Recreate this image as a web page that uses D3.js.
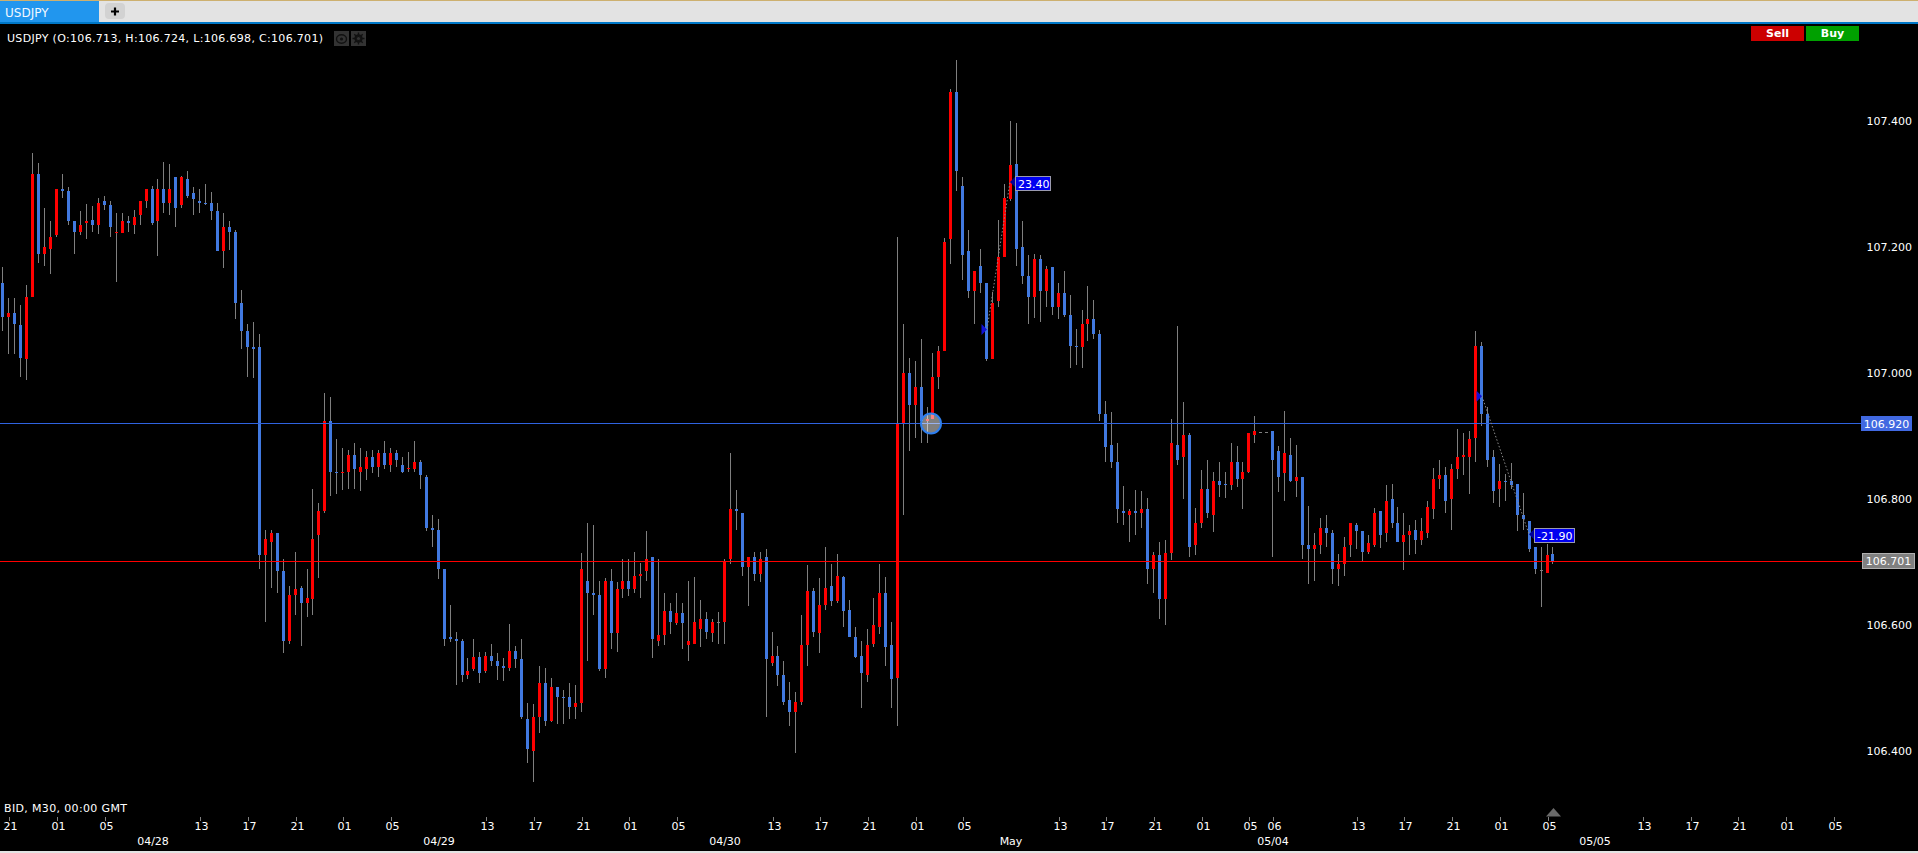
<!DOCTYPE html>
<html><head><meta charset="utf-8"><title>USDJPY</title>
<script src="https://cdn.jsdelivr.net/npm/d3@7/dist/d3.min.js"></script>
<style>html,body{margin:0;padding:0;background:#000;overflow:hidden}svg{display:block}text{font-family:"DejaVu Sans",Verdana,sans-serif}</style>
</head><body><svg id="c" width="1918" height="853"></svg>
<script>
const highs=[
107.168,107.119,107.119,107.108,107.140,107.349,107.334,107.263,107.241,107.292,
107.317,107.295,107.241,107.257,107.268,107.265,107.278,107.282,107.274,107.255,
107.255,107.249,107.259,107.273,107.292,107.298,107.309,107.336,107.333,107.311,
107.313,107.321,107.295,107.292,107.301,107.287,107.271,107.255,107.241,107.227,
107.132,107.079,107.081,107.062,106.751,106.752,106.746,106.706,106.662,106.717,
106.663,106.690,106.817,106.794,106.968,106.962,106.895,106.881,106.879,106.889,
106.881,106.876,106.879,106.879,106.892,106.881,106.879,106.867,106.875,106.892,
106.863,106.838,106.775,106.768,106.689,106.633,106.589,106.579,106.548,106.579,
106.557,106.557,106.570,106.556,106.548,106.602,106.567,106.578,106.476,106.475,
106.536,106.532,106.517,106.502,106.497,106.508,106.506,106.714,106.762,106.759,
106.671,106.675,106.690,106.668,106.705,106.705,106.716,106.699,106.749,106.708,
106.706,106.651,106.636,106.651,106.636,106.670,106.676,106.640,106.621,106.610,
106.621,106.705,106.873,106.814,106.778,106.708,106.716,106.716,106.721,106.590,
106.567,106.544,106.510,106.494,106.616,106.695,106.660,106.675,106.725,106.697,
106.713,106.679,106.640,106.598,106.575,106.594,106.644,106.697,106.676,106.605,
107.216,107.079,107.024,107.019,107.054,106.946,107.032,107.043,107.214,107.452,
107.497,107.311,107.227,107.162,107.198,107.143,107.129,107.244,107.300,107.401,
107.397,107.241,107.187,107.189,107.187,107.171,107.168,107.144,107.162,107.125,
107.070,107.100,107.138,107.117,107.068,106.956,106.938,106.889,106.821,106.784,
106.814,106.813,106.802,106.716,106.732,106.736,106.927,107.075,106.954,106.905,
106.786,106.846,106.863,106.843,106.859,106.843,106.890,106.884,106.859,106.905,
106.932,106.907,106.907,106.908,106.884,106.940,106.897,106.886,106.836,106.790,
106.746,106.771,106.775,106.751,106.713,106.740,106.762,106.762,106.749,106.743,
106.786,106.781,106.822,106.825,106.787,106.778,106.759,106.767,106.770,106.798,
106.849,106.862,106.851,106.856,106.911,106.906,106.909,107.067,107.049,106.946,
106.878,106.856,106.840,106.857,106.825,106.810,106.765,106.724,106.725,106.729,106.724];
const lows=[
107.067,107.031,107.031,106.994,106.989,107.121,107.175,107.170,107.158,107.216,
107.278,107.235,107.189,107.219,107.213,107.225,107.221,107.259,107.217,107.145,
107.222,107.225,107.221,107.236,107.262,107.235,107.186,107.254,107.251,107.233,
107.263,107.278,107.252,107.255,107.267,107.243,107.194,107.167,107.195,107.086,
107.038,106.994,106.992,106.689,106.606,106.659,106.652,106.556,106.571,106.616,
106.567,106.613,106.616,106.675,106.778,106.806,106.808,106.814,106.817,106.817,
106.813,106.830,106.841,106.836,106.848,106.844,106.852,106.841,106.844,106.843,
106.817,106.749,106.725,106.673,106.567,106.573,106.505,106.510,106.514,106.527,
106.508,106.524,106.535,106.513,106.511,106.527,106.532,106.451,106.381,106.352,
106.429,106.440,106.446,106.444,106.443,106.451,106.452,106.462,106.544,106.617,
106.527,106.517,106.563,106.557,106.644,106.646,106.651,106.643,106.670,106.548,
106.567,106.568,106.586,106.600,106.563,106.543,106.571,106.565,106.579,106.573,
106.571,106.571,106.697,106.751,106.679,106.630,106.670,106.668,106.454,106.535,
106.503,106.473,106.440,106.398,106.473,106.535,106.581,106.556,106.625,106.630,
106.635,106.597,106.581,106.548,106.468,106.510,106.565,106.586,106.535,106.468,
106.440,106.775,106.876,106.898,106.890,106.890,106.927,106.975,107.035,107.173,
107.290,107.148,107.119,107.079,107.127,107.019,107.022,107.106,107.184,107.274,
107.171,107.141,107.078,107.087,107.081,107.106,107.092,107.086,107.089,107.009,
107.013,107.009,107.051,107.055,106.924,106.860,106.849,106.762,106.760,106.732,
106.743,106.754,106.665,106.651,106.610,106.600,106.703,106.855,106.800,106.708,
106.711,106.754,106.770,106.748,106.803,106.802,106.814,106.819,106.784,106.841,
106.890,106.907,106.907,106.709,106.811,106.797,106.827,106.803,106.705,106.665,
106.671,106.713,106.725,106.665,106.663,106.678,106.708,106.721,106.702,106.713,
106.725,106.722,106.733,106.754,106.732,106.687,106.711,106.713,106.727,106.738,
106.768,106.817,106.778,106.752,106.833,106.838,106.808,106.860,106.916,106.852,
106.794,106.787,106.798,106.817,106.749,106.752,106.717,106.681,106.629,106.683,106.698];
const opens=[
107.143,107.089,107.095,107.076,107.022,107.121,107.317,107.190,107.197,107.219,
107.292,107.289,107.241,107.225,107.238,107.244,107.235,107.273,107.267,107.222,
107.222,107.241,107.235,107.251,107.273,107.292,107.241,107.292,107.270,107.311,
107.267,107.308,107.286,107.273,107.270,107.270,107.257,107.194,107.232,107.225,
107.111,107.067,107.041,107.041,106.711,106.733,106.746,106.686,106.575,106.648,
106.660,106.635,106.641,106.743,106.781,106.924,106.844,106.841,106.844,106.870,
106.844,106.848,106.867,106.851,106.873,106.854,106.873,106.854,106.848,106.848,
106.860,106.835,106.755,106.752,106.689,106.581,106.578,106.575,106.521,106.530,
106.549,106.527,106.552,106.543,106.536,106.533,106.559,106.546,106.451,106.400,
106.454,106.508,106.448,106.502,106.486,106.486,106.470,106.476,106.670,106.651,
106.648,106.530,106.670,106.587,106.657,106.670,106.657,106.679,106.686,106.708,
106.575,106.584,106.622,106.603,106.619,106.568,106.571,106.594,106.610,106.587,
106.606,106.606,106.705,106.784,106.778,106.692,106.708,106.682,106.708,106.540,
106.552,106.521,106.482,106.463,106.479,106.568,106.654,106.587,106.632,106.663,
106.638,106.676,106.625,106.581,106.552,106.521,106.571,106.597,106.651,106.568,
106.517,106.919,107.000,106.949,106.978,106.925,106.927,106.994,107.035,107.213,
107.447,107.298,107.194,107.130,107.171,107.143,107.022,107.114,107.184,107.276,
107.333,107.200,107.155,107.121,107.181,107.130,107.168,107.105,107.127,107.092,
107.044,107.041,107.079,107.086,107.063,106.936,106.886,106.860,106.781,106.775,
106.781,106.778,106.784,106.689,106.711,106.641,106.714,106.886,106.867,106.902,
106.727,106.762,106.816,106.775,106.829,106.825,106.822,106.860,106.832,106.844,
106.902,106.907,106.907,106.908,106.876,106.841,106.870,106.829,106.835,106.727,
106.721,106.727,106.755,106.746,106.689,106.698,106.727,106.759,106.749,106.717,
106.727,106.781,106.746,106.800,106.762,106.733,106.743,106.752,106.736,106.746,
106.784,106.832,106.838,106.800,106.848,106.867,106.867,106.898,107.044,106.936,
106.867,106.816,106.829,106.829,106.825,106.775,106.765,106.724,106.688,106.683,106.713];
const closes=[
107.089,107.095,107.079,107.025,107.121,107.317,107.190,107.200,107.216,107.292,
107.289,107.241,107.225,107.235,107.241,107.235,107.270,107.267,107.232,107.224,
107.241,107.238,107.248,107.273,107.292,107.238,107.292,107.270,107.292,107.263,
107.311,107.282,107.276,107.270,107.268,107.257,107.194,107.232,107.225,107.111,
107.067,107.041,107.038,106.711,106.737,106.746,106.686,106.575,106.648,106.657,
106.635,106.644,106.737,106.781,106.924,106.844,106.841,106.844,106.870,106.848,
106.851,106.867,106.851,106.873,106.854,106.873,106.863,106.844,106.849,106.860,
106.838,106.755,106.752,106.689,106.578,106.579,106.575,106.521,106.527,106.549,
106.524,106.552,106.543,106.536,106.533,106.559,106.546,106.454,106.403,106.454,
106.508,106.448,106.502,106.486,106.484,106.470,106.476,106.689,106.651,106.648,
106.530,106.670,106.587,106.657,106.670,106.657,106.679,106.682,106.705,106.578,
106.584,106.622,106.606,106.619,106.603,106.575,106.606,106.610,106.590,106.606,
106.606,106.702,106.784,106.781,106.692,106.708,106.682,106.705,106.546,106.552,
106.521,106.479,106.463,106.479,106.568,106.654,106.590,106.632,106.660,106.638,
106.679,106.622,106.581,106.549,106.524,106.568,106.600,106.651,106.565,106.514,
106.919,107.000,106.949,106.978,106.925,106.927,106.994,107.035,107.209,107.447,
107.321,107.187,107.130,107.162,107.143,107.022,107.111,107.184,107.279,107.330,
107.197,107.155,107.121,107.181,107.130,107.165,107.105,107.127,107.092,107.044,
107.043,107.079,107.086,107.063,106.936,106.883,106.860,106.784,106.778,106.781,
106.778,106.784,106.689,106.711,106.641,106.714,106.889,106.863,106.902,106.724,
106.762,106.816,106.778,106.829,106.822,106.822,106.860,106.832,106.844,106.905,
106.908,106.907,106.907,106.863,106.835,106.873,106.829,106.835,106.727,106.721,
106.727,106.755,106.746,106.689,106.698,106.724,106.762,106.749,106.717,106.730,
106.778,106.743,106.797,106.762,106.733,106.743,106.749,106.736,106.749,106.787,
106.832,106.838,106.797,106.848,106.867,106.870,106.895,107.044,106.936,106.863,
106.813,106.829,106.827,106.822,106.775,106.768,106.721,106.689,106.688,106.711,106.701];

const priceTicks=[107.4,107.2,107.0,106.8,106.6,106.4];
const timeTickIndex=[1,9,17,33,41,49,57,65,81,89,97,105,113,129,137,145,153,161,177,185,193,201,209,213,227,235,243,251,259,275,283,291,299,307];
const timeTickLabels=["21","01","05","13","17","21","01","05","13","17","21","01","05","13","17","21","01","05","13","17","21","01","05","06","13","17","21","01","05","13","17","21","01","05"];
const dateIndex=[25,73,121,169,213,267];
const dateLabels=["04/28","04/29","04/30","May","05/04","05/05"];
const bidLevel=106.920, closeLevel=106.701;
const tradeOpenIndex=[165,248], tradeOpenPrice=[107.069,106.963];
const tradeCloseIndex=[169,256], tradeClosePrice=[107.303,106.744];
const tradeLabels=["23.40","-21.90"];
const headerText="USDJPY (O:106.713, H:106.724, L:106.698, C:106.701)";

const svg=d3.select("#c");
const W=1918,H=853;
const xs=d3.scaleLinear().domain([0,260]).range([2,1552]);
const px=i=>Math.ceil(xs(i)-1e-6);
const yScale=d3.scaleLinear().domain([106.4,107.4]).range([750.9,120.9]);
const cy=p=>Math.round(yScale(p)+0.4);
const data=opens.map((o,i)=>({i,o,h:highs[i],l:lows[i],c:closes[i]}));
const RED="#ff0000",BLUE="#4179e0",GREY="#7f7f7f";

svg.append("rect").attr("width",W).attr("height",H).attr("fill","#000");

// candles
const candles=svg.append("g").attr("shape-rendering","crispEdges");
candles.selectAll("rect.w").data(data).join("rect").attr("class","w")
 .attr("x",d=>px(d.i)).attr("width",1)
 .attr("y",d=>cy(d.h)).attr("height",d=>Math.max(0,cy(d.l)-cy(d.h)))
 .attr("fill",GREY);
candles.selectAll("rect.b").data(data).join("rect").attr("class","b")
 .attr("x",d=>px(d.i)-1).attr("width",3)
 .attr("y",d=>cy(Math.max(d.o,d.c)))
 .attr("height",d=>Math.max(1,cy(Math.min(d.o,d.c))-cy(Math.max(d.o,d.c))))
 .attr("fill",d=>d.c>d.o?RED:d.c<d.o?BLUE:GREY);

// horizontal levels
const levels=svg.append("g").attr("shape-rendering","crispEdges");
levels.append("rect").attr("x",0).attr("width",1861).attr("y",Math.floor(yScale(bidLevel))).attr("height",1).attr("fill","#2f63e0");
levels.append("rect").attr("x",0).attr("width",1862).attr("y",Math.floor(yScale(closeLevel))).attr("height",1).attr("fill","#ff0000");

// trades
tradeLabels.forEach((t,k)=>{
  const x0=px(tradeOpenIndex[k])+1,y0=yScale(tradeOpenPrice[k]),x1=px(tradeCloseIndex[k]),y1=yScale(tradeClosePrice[k]);
  svg.append("line").attr("x1",x0).attr("y1",y0).attr("x2",x1).attr("y2",y1)
    .attr("stroke","#8a8a8a").attr("stroke-width",1).attr("stroke-dasharray","1.5 2");
  svg.append("path").attr("d",`M${x0},${y0}l-5.5,-5.5v11z`).attr("fill","#1010d8");
  svg.append("path").attr("d",`M${x1},${y1}l5.5,-5.5v11z`).attr("fill","#000099");
  const bw=t.length>5?40:35;
  svg.append("rect").attr("x",x1+5.5).attr("y",Math.round(y1)-5.5).attr("width",bw).attr("height",14)
    .attr("fill","#0000f0").attr("stroke","#9a9ab0").attr("stroke-width",1);
  svg.append("text").attr("x",x1+8).attr("y",Math.round(y1)+6).attr("font-size",11).attr("fill","#fff").text(t);
});

// crosshair circle
svg.append("circle").attr("cx",(px(155)+px(156))/2+1.5).attr("cy",yScale(bidLevel)+0.2).attr("r",10)
  .attr("fill","#fff").attr("fill-opacity",0.5).attr("stroke","#2f7fee").attr("stroke-width",2);

// price axis
const yAxis=d3.axisRight(yScale).tickValues(priceTicks).tickFormat(d3.format(".3f")).tickSize(0);
const ya=svg.append("g").attr("transform","translate(1866,0)").call(yAxis);
ya.select(".domain").remove();
ya.selectAll("text").attr("x",46).attr("text-anchor","end").attr("fill","#fff").attr("font-size",11).attr("font-family","DejaVu Sans");

// price tags
function tag(x,yy,w,h,fill,stroke,val){
  svg.append("rect").attr("x",x).attr("y",yy).attr("width",w).attr("height",h).attr("fill",fill).attr("stroke",stroke||"none").attr("shape-rendering","crispEdges");
  svg.append("text").attr("x",x+w/2).attr("y",yy+h/2+4).attr("text-anchor","middle").attr("font-size",11).attr("fill","#fff").text(val);
}
tag(1861,416,51,15,"#4169e1",null,d3.format(".3f")(bidLevel));
tag(1862.5,553.5,52,15,"#808080","#b0b0b0",d3.format(".3f")(closeLevel));

// time axis (index scale)
const xAxisScale=i=>px(i)+0.5;
xAxisScale.copy=()=>xAxisScale; xAxisScale.domain=()=>[0,307]; xAxisScale.range=()=>[2,1832];
const xAxis=d3.axisBottom(xAxisScale).tickValues(timeTickIndex).tickSizeInner(4).tickSizeOuter(0).tickPadding(1)
  .tickFormat(d=>timeTickLabels[timeTickIndex.indexOf(d)]);
const xa=svg.append("g").attr("transform","translate(0,817)").call(xAxis);
xa.select(".domain").remove();
xa.selectAll("line").attr("stroke","#808080").attr("shape-rendering","crispEdges");
xa.selectAll("text").attr("fill","#fff").attr("font-size",11).attr("font-family","DejaVu Sans").attr("dx",1.5);
svg.selectAll("text.date").data(dateLabels).join("text").attr("class","date")
  .attr("x",(d,k)=>px(dateIndex[k])+1).attr("y",845).attr("text-anchor","middle")
  .attr("fill","#fff").attr("font-size",11).text(d=>d);

// corner texts
svg.append("text").attr("x",4).attr("y",812).attr("fill","#fff").attr("font-size",11).attr("textLength",123).attr("lengthAdjust","spacing").text("BID, M30, 00:00 GMT");
svg.append("path").attr("d","M1546,816.5L1553.5,808L1561,816.5Z").attr("fill","#6a6a6a");

// top chrome
const chrome=svg.append("g");
chrome.append("rect").attr("width",W).attr("height",22).attr("fill","#e3e3e3").attr("shape-rendering","crispEdges");
chrome.append("rect").attr("width",W).attr("height",1).attr("fill","#cdb06f").attr("shape-rendering","crispEdges");
chrome.append("rect").attr("x",0).attr("y",1).attr("width",99).attr("height",21).attr("fill","#2196ee").attr("shape-rendering","crispEdges");
chrome.append("rect").attr("y",22).attr("width",W).attr("height",2).attr("fill","#0078c8").attr("shape-rendering","crispEdges");
chrome.append("text").attr("x",5).attr("y",16.5).attr("font-size",12).attr("fill","#f2f8ff").text("USDJPY");
chrome.append("rect").attr("x",105).attr("y",3).attr("width",20).attr("height",16).attr("rx",4).attr("fill","#d2d2d2");
chrome.append("path").attr("d","M115,7.5v8M111,11.5h8").attr("stroke","#000").attr("stroke-width",2.2);

svg.append("text").attr("x",7).attr("y",42).attr("font-size",11).attr("fill","#fff").attr("textLength",316).attr("lengthAdjust","spacing").text(headerText);
// icons
const ic=svg.append("g");
ic.append("rect").attr("x",334).attr("y",31).attr("width",15).attr("height",15).attr("fill","#333");
ic.append("rect").attr("x",351).attr("y",31).attr("width",15).attr("height",15).attr("fill","#333");
ic.append("ellipse").attr("cx",341.5).attr("cy",39).attr("rx",5).attr("ry",4.2).attr("fill","none").attr("stroke","#111").attr("stroke-width",1.4);
ic.append("circle").attr("cx",341.5).attr("cy",39).attr("r",1.6).attr("fill","#111");
ic.append("circle").attr("cx",358.5).attr("cy",38.5).attr("r",3.2).attr("fill","none").attr("stroke","#111").attr("stroke-width",2);
ic.append("path").attr("d","M358.5,32.5v12M352.5,38.5h12M354.3,34.3l8.4,8.4M362.7,34.3l-8.4,8.4").attr("stroke","#111").attr("stroke-width",1.4);
ic.append("circle").attr("cx",358.5).attr("cy",38.5).attr("r",1.6).attr("fill","#333");

// buttons
[["Sell",1751,"#cc0000"],["Buy",1806,"#00a000"]].forEach(([t,x,c])=>{
  svg.append("rect").attr("x",x).attr("y",26).attr("width",53).attr("height",15).attr("fill",c).attr("shape-rendering","crispEdges");
  svg.append("text").attr("x",x+26.5).attr("y",37).attr("text-anchor","middle").attr("font-size",11).attr("font-weight","bold").attr("fill","#fff").text(t);
});

// bottom strip
svg.append("rect").attr("y",851).attr("width",W).attr("height",2).attr("fill","#e3e3e3").attr("shape-rendering","crispEdges");
</script></body></html>
